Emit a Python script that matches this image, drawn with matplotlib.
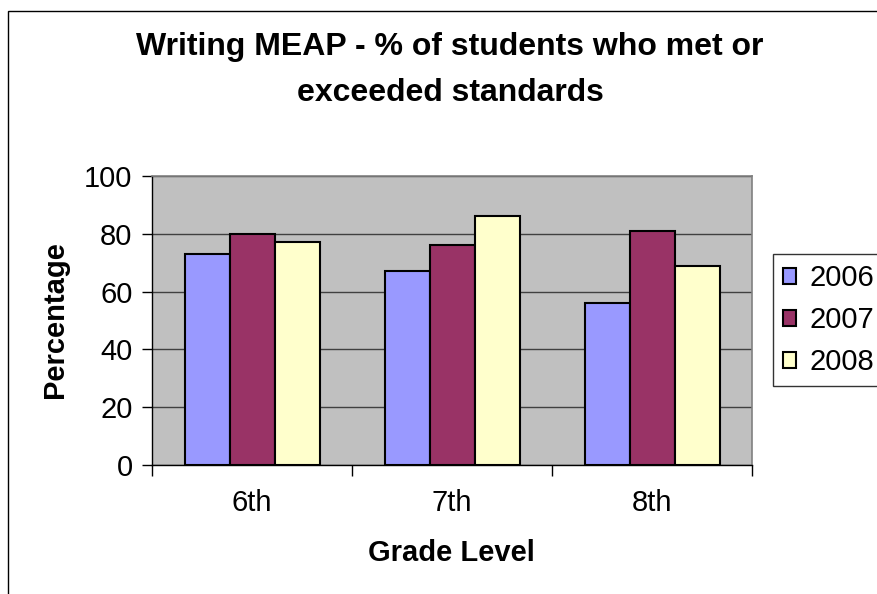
import numpy as np
import matplotlib
matplotlib.use('Agg')
import matplotlib.pyplot as plt
from matplotlib.patches import Rectangle

plt.rcParams['font.family'] = ['Liberation Sans', 'DejaVu Sans']

grades = ['6th', '7th', '8th']
years = ['2006', '2007', '2008']
pct_2006 = [73, 67, 56]
pct_2007 = [80, 76, 81]
pct_2008 = [77, 86, 69]
colors = ['#9999FF', '#993366', '#FFFFCC']

fig = plt.figure(figsize=(8.77, 5.94), dpi=100)
fig.patch.set_facecolor('white')

# outer chart border (runs off right/bottom edge like the screenshot)
fig.patches.append(Rectangle((8/877, -0.1), 1.2, 1 - 11/594 + 0.1,
                             transform=fig.transFigure, fill=False,
                             edgecolor='black', lw=1.0))

ax = fig.add_axes([152/877, 1 - 465/594, 600/877, 289/594])
ax.set_facecolor('#C0C0C0')

x = np.arange(len(grades))
w = 0.225
for i, (vals, c, yr) in enumerate(zip([pct_2006, pct_2007, pct_2008], colors, years)):
    ax.bar(x + (i - 1) * w, vals, width=w, color=c, edgecolor='black',
           linewidth=1.5, label=yr, zorder=3)

ax.set_xlim(-0.5, 2.5)
ax.set_ylim(0, 100)
ax.set_yticks(range(0, 101, 20))
ax.yaxis.grid(True, color='#404040', lw=1.0, zorder=1)
ax.set_axisbelow(True)

ax.set_xticks(x)
ax.set_xticklabels(grades)
ax.set_xticks([-0.5, 0.5, 1.5, 2.5], minor=True)
ax.tick_params(axis='x', which='major', length=0, pad=17, labelsize=21)
ax.tick_params(axis='x', which='minor', length=8, width=1, direction='out')
ax.tick_params(axis='y', length=7, width=1, direction='out', pad=7, labelsize=21)

for s in ['top', 'right']:
    ax.spines[s].set_color('#808080')
    ax.spines[s].set_linewidth(1.2)
for s in ['left', 'bottom']:
    ax.spines[s].set_color('black')
    ax.spines[s].set_linewidth(1.0)

fig.text(450/877, 1 - 47/594, 'Writing MEAP - % of students who met or',
         ha='center', va='center', fontsize=23, fontweight='bold')
fig.text(450/877, 1 - 93/594, 'exceeded standards',
         ha='center', va='center', fontsize=23, fontweight='bold')
fig.text(55/877, 1 - 320/594, 'Percentage', rotation=90,
         ha='center', va='center', fontsize=21, fontweight='bold')
fig.text(451/877, 1 - 553/594, 'Grade Level',
         ha='center', va='center', fontsize=21, fontweight='bold')

leg = fig.legend(loc='upper left', bbox_to_anchor=(773/877, 1 - 254/594),
                 fontsize=21, frameon=True, fancybox=False, edgecolor='black',
                 handlelength=0.45, handleheight=0.45, handletextpad=0.45,
                 borderpad=0.35, labelspacing=0.48, borderaxespad=0)
leg.get_frame().set_linewidth(1.0)

fig.savefig('out.png', dpi=100)
